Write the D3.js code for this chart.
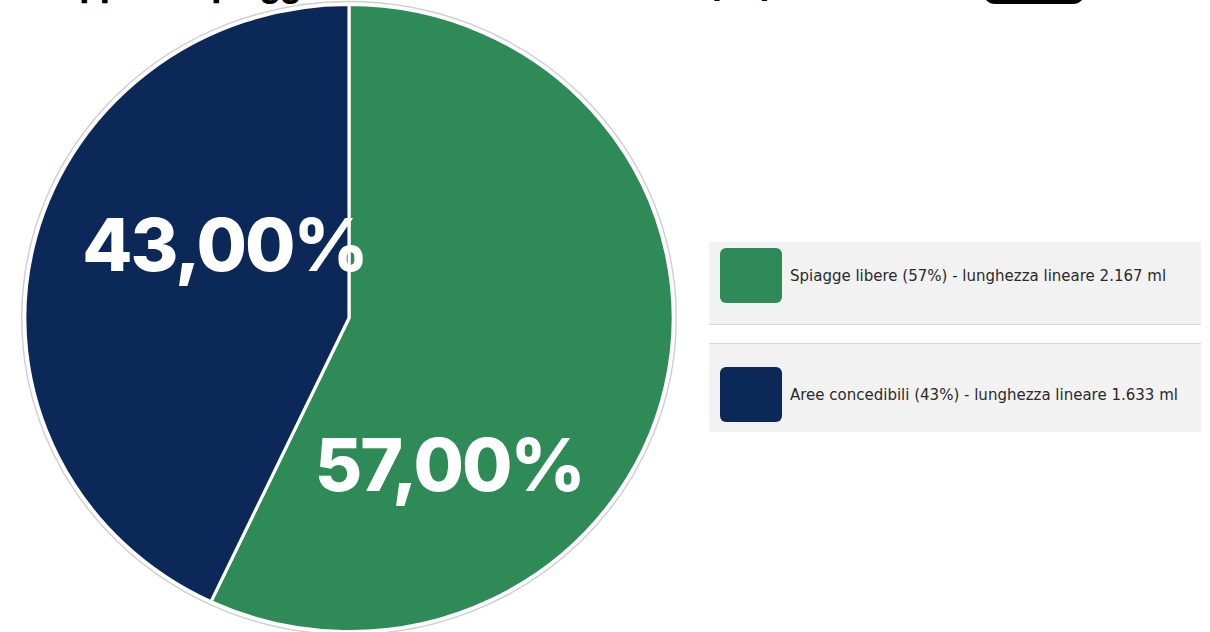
<!DOCTYPE html>
<html>
<head>
<meta charset="utf-8">
<script src="https://cdn.jsdelivr.net/npm/d3@7"></script>
<style>
  html, body { margin: 0; padding: 0; background: #fff; }
  svg { display: block; }
</style>
</head>
<body>
<svg id="main-svg"></svg>
<script>
// data
var categories = ["Spiagge libere", "Aree concedibili"];
var percentages = [57, 43];
var lengthsMl = ["2.167", "1.633"];
var sliceLabels = ["57,00%", "43,00%"];
var colors = ["#2e8a57", "#0c2859"];
var title = "Rapporto spiagge libere e aree concedibili (ml)";

var width = 1210,
  height = 632,
  cx = 349,
  cy = 318,
  R = 313.5,
  sx = 1.034; // the picture is a bit wider than tall

var svg = d3.select("#main-svg").attr("width", width).attr("height", height);

// title, mostly cut off by the top edge
svg.append("text")
  .attr("x", 40).attr("y", -3)
  .attr("font-family", "Inter, 'Open Sans', sans-serif")
  .attr("font-weight", 800)
  .attr("font-size", 32)
  .attr("fill", "#000")
  .text(title);

// button, also cut off
svg.append("rect")
  .attr("x", 983).attr("y", -30).attr("width", 102).attr("height", 34)
  .attr("rx", 12).attr("fill", "#000");

var pie = d3.pie().sort(null).value(function (d) { return d; });
var arcs = pie(percentages);
var arc = d3.arc().innerRadius(0).outerRadius(R);

var g = svg.append("g")
  .attr("transform", "translate(" + cx + " " + cy + ") scale(" + sx + " 1)");

g.append("circle")
  .attr("r", R + 3)
  .attr("fill", "none")
  .attr("stroke", "#cfcfcf")
  .attr("stroke-width", 1.4);

g.selectAll("path.slice").data(arcs).enter().append("path")
  .attr("class", "slice")
  .attr("d", arc)
  .attr("fill", function (d, i) { return colors[i]; })
  .attr("stroke", "#fff")
  .attr("stroke-width", 3)
  .attr("stroke-linejoin", "round");

// where each label sits inside its slice (fraction of angle, fraction of radius)
var labelSpots = [[0.714, 0.56], [0.621, 0.45]];

svg.selectAll("text.pct").data(arcs).enter().append("text")
  .attr("class", "pct")
  .attr("x", function (d, i) {
    var a = d.startAngle + (d.endAngle - d.startAngle) * labelSpots[i][0];
    return cx + sx * R * labelSpots[i][1] * Math.sin(a);
  })
  .attr("y", function (d, i) {
    var a = d.startAngle + (d.endAngle - d.startAngle) * labelSpots[i][0];
    return cy - R * labelSpots[i][1] * Math.cos(a);
  })
  .attr("dy", "0.36em")
  .attr("text-anchor", "middle")
  .attr("font-family", "Inter, 'Open Sans', sans-serif")
  .attr("font-weight", 800)
  .attr("font-size", 73)
  .attr("letter-spacing", -2)
  .attr("fill", "#fff")
  .text(function (d, i) { return sliceLabels[i]; });

// legend
var legendY = d3.scalePoint().domain(categories).range([242, 343]);
var leg = svg.selectAll("g.leg").data(categories).enter().append("g")
  .attr("class", "leg")
  .attr("transform", function (d) { return "translate(709 " + legendY(d) + ")"; });

leg.append("rect")
  .attr("width", 492).attr("height", function (d, i) { return i ? 89 : 83; })
  .attr("fill", "#f2f2f2");
leg.append("line")
  .attr("x1", 0).attr("x2", 492)
  .attr("y1", function (d, i) { return i ? 0.5 : 82.5; })
  .attr("y2", function (d, i) { return i ? 0.5 : 82.5; })
  .attr("stroke", "#d6d6d6");
leg.append("rect")
  .attr("x", 11).attr("y", function (d, i) { return i ? 24 : 6; })
  .attr("width", 62).attr("height", 55).attr("rx", 6)
  .attr("fill", function (d, i) { return colors[i]; });
leg.append("text")
  .attr("x", 81).attr("y", function (d, i) { return i ? 57 : 39; })
  .attr("font-family", "'DejaVu Sans', sans-serif")
  .attr("font-size", 15)
  .attr("fill", "#2a2a2a")
  .text(function (d, i) {
    return d + " (" + percentages[i] + "%) - lunghezza lineare " + lengthsMl[i] + " ml";
  });
</script>
</body>
</html>
